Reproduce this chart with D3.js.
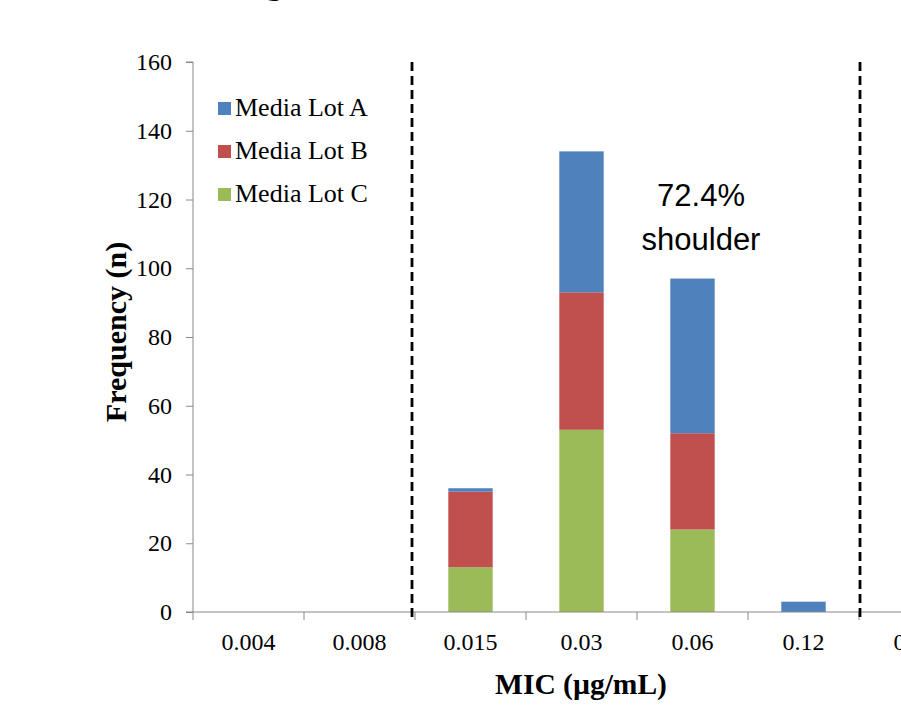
<!DOCTYPE html>
<html>
<head>
<meta charset="utf-8">
<script src="https://cdn.jsdelivr.net/npm/d3@7"></script>
<style>
  body { margin: 0; background: #fff; }
  svg { display: block; }
</style>
</head>
<body>
<div id="chart"></div>
<script>
// chart data
var categories = ["0.004", "0.008", "0.015", "0.03", "0.06", "0.12", "0.25"];
var lotA = [0, 0, 1, 41, 45, 3, 0];
var lotB = [0, 0, 22, 40, 28, 0, 0];
var lotC = [0, 0, 13, 53, 24, 0, 0];
var seriesNames = ["Media Lot A", "Media Lot B", "Media Lot C"];
var yTicks = [0, 20, 40, 60, 80, 100, 120, 140, 160];
var cutoffIndex = [2, 6]; // dashed lines at these category boundaries

var svgWidth = 901;
var svgHeight = 713;
var colors = { "Media Lot A": "#4F81BD", "Media Lot B": "#C0504D", "Media Lot C": "#9BBB59" };

var svg = d3.select("#chart")
    .append("svg")
    .attr("width", svgWidth)
    .attr("height", svgHeight);

var x = d3.scaleBand()
    .domain(categories)
    .range([193, 970])
    .paddingInner(0.6)
    .paddingOuter(0.3);

var y = d3.scaleLinear()
    .domain([0, 160])
    .range([612, 62]);

function boundary(i) {
    return x.range()[0] + i * x.step();
}

// partly hidden title above the page
svg.append("text")
    .attr("x", 262)
    .attr("y", -7)
    .attr("font-family", "Liberation Sans, Arial, sans-serif")
    .attr("font-weight", "bold")
    .attr("font-size", 40)
    .text("g");

var table = categories.map(function(c, i) {
    return { cat: c, "Media Lot A": lotA[i], "Media Lot B": lotB[i], "Media Lot C": lotC[i] };
});
var stack = d3.stack().keys(["Media Lot C", "Media Lot B", "Media Lot A"]);
var layers = stack(table);

svg.append("g")
    .selectAll("g")
    .data(layers)
    .enter()
    .append("g")
    .attr("fill", d => colors[d.key])
    .selectAll("rect")
    .data(d => d)
    .enter()
    .filter(d => d[1] - d[0] > 0)
    .append("rect")
    .attr("x", d => x(d.data.cat))
    .attr("width", x.bandwidth())
    .attr("y", d => y(d[1]))
    .attr("height", d => y(d[0]) - y(d[1]));

// y axis
var leftAxis = d3.axisLeft(y).tickValues(yTicks).tickSize(7).tickPadding(14);
var yAxis = svg.append("g")
    .attr("transform", "translate(193,0)")
    .call(leftAxis);
yAxis.select(".domain").attr("stroke", "#888").attr("d", "M-7,62H0V612H-7");
yAxis.selectAll(".tick line").attr("stroke", "#888");
yAxis.selectAll(".tick text")
    .attr("font-family", "Liberation Serif, Times New Roman, serif")
    .attr("font-size", 24)
    .attr("fill", "#000");

// x axis: ticks on category boundaries
var xAxis = svg.append("g");
xAxis.append("line")
    .attr("x1", 193).attr("x2", svgWidth)
    .attr("y1", y(0)).attr("y2", y(0))
    .attr("stroke", "#888");
xAxis.selectAll(".bt")
    .data(d3.range(categories.length + 1))
    .enter()
    .append("line")
    .attr("x1", d => boundary(d)).attr("x2", d => boundary(d))
    .attr("y1", y(0)).attr("y2", y(0) + 8)
    .attr("stroke", "#888");
xAxis.selectAll(".lbl")
    .data(categories)
    .enter()
    .append("text")
    .attr("x", d => x(d) + x.bandwidth() / 2)
    .attr("y", 650)
    .attr("text-anchor", "middle")
    .attr("font-family", "Liberation Serif, Times New Roman, serif")
    .attr("font-size", 24)
    .text(d => d);

// dashed cut-off lines
svg.selectAll(".cut")
    .data(cutoffIndex)
    .enter()
    .append("line")
    .attr("x1", d => boundary(d) + (d < 4 ? -3 : 1))
    .attr("x2", d => boundary(d) + (d < 4 ? -3 : 1))
    .attr("y1", y(160)).attr("y2", y(0) + 8)
    .attr("stroke", "#000")
    .attr("stroke-width", 2.8)
    .attr("stroke-dasharray", "9,5");

// axis titles
svg.append("text")
    .attr("transform", "translate(126,332) rotate(-90)")
    .attr("text-anchor", "middle")
    .attr("font-family", "Liberation Serif, Times New Roman, serif")
    .attr("font-weight", "bold")
    .attr("font-size", 30)
    .text("Frequency (n)");

svg.append("text")
    .attr("x", 581)
    .attr("y", 694)
    .attr("text-anchor", "middle")
    .attr("font-family", "Liberation Serif, Times New Roman, serif")
    .attr("font-weight", "bold")
    .attr("font-size", 29.5)
    .text("MIC (\u00b5g/mL)");

// legend
var legend = svg.append("g")
    .selectAll("g")
    .data(seriesNames)
    .enter()
    .append("g")
    .attr("transform", (d, i) => `translate(218, ${108 + i * 43})`);
legend.append("rect")
    .attr("x", 0).attr("y", -6)
    .attr("width", 13).attr("height", 13)
    .attr("fill", d => colors[d]);
legend.append("text")
    .attr("x", 17)
    .attr("y", 8)
    .attr("font-family", "Liberation Serif, Times New Roman, serif")
    .attr("font-size", 26)
    .text(d => d);

// annotation
var note = svg.append("text")
    .attr("text-anchor", "middle")
    .attr("font-family", "Liberation Sans, Arial, sans-serif")
    .attr("font-size", 31);
note.append("tspan").attr("x", 701).attr("y", 206).text("72.4%");
note.append("tspan").attr("x", 701).attr("y", 250).text("shoulder");
</script>
</body>
</html>
